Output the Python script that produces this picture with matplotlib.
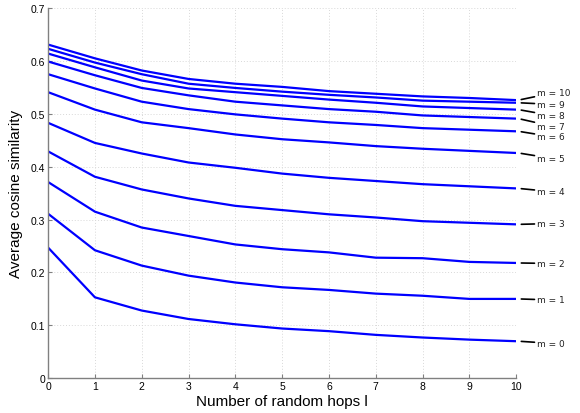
import matplotlib
matplotlib.use('Agg')
import matplotlib.pyplot as plt

hops = [0, 1, 2, 3, 4, 5, 6, 7, 8, 9, 10]
m_values = [0, 1, 2, 3, 4, 5, 6, 7, 8, 9, 10]

# average cosine similarity, one list per m
sim_m0 = [0.247, 0.153, 0.128, 0.112, 0.102, 0.094, 0.089, 0.082, 0.077, 0.073, 0.070]
sim_m1 = [0.311, 0.242, 0.213, 0.194, 0.181, 0.172, 0.167, 0.160, 0.156, 0.150, 0.150]
sim_m2 = [0.371, 0.315, 0.285, 0.269, 0.253, 0.244, 0.238, 0.228, 0.227, 0.220, 0.218]
sim_m3 = [0.429, 0.381, 0.357, 0.340, 0.326, 0.318, 0.310, 0.304, 0.297, 0.294, 0.291]
sim_m4 = [0.483, 0.445, 0.425, 0.408, 0.398, 0.387, 0.379, 0.373, 0.367, 0.363, 0.359]
sim_m5 = [0.541, 0.508, 0.484, 0.473, 0.461, 0.452, 0.446, 0.439, 0.434, 0.430, 0.426]
sim_m6 = [0.575, 0.548, 0.523, 0.509, 0.499, 0.491, 0.484, 0.479, 0.473, 0.470, 0.467]
sim_m7 = [0.599, 0.573, 0.549, 0.535, 0.523, 0.516, 0.509, 0.504, 0.497, 0.494, 0.491]
sim_m8 = [0.614, 0.588, 0.563, 0.548, 0.541, 0.534, 0.527, 0.521, 0.514, 0.511, 0.508]
sim_m9 = [0.623, 0.597, 0.575, 0.557, 0.549, 0.542, 0.536, 0.531, 0.525, 0.523, 0.521]
sim_m10 = [0.631, 0.605, 0.582, 0.566, 0.557, 0.551, 0.543, 0.538, 0.533, 0.530, 0.526]

series = [sim_m0, sim_m1, sim_m2, sim_m3, sim_m4, sim_m5,
          sim_m6, sim_m7, sim_m8, sim_m9, sim_m10]

# where the "m = ..." labels sit (spread out so they do not collide)
label_y = [0.066, 0.148, 0.217, 0.2925, 0.353, 0.416,
           0.457, 0.477, 0.497, 0.518, 0.540]

fig = plt.figure(figsize=(5.8, 4.14), dpi=100)
ax = fig.add_axes([0.083, 0.084, 0.807, 0.894])

for m, ys, ly in zip(m_values, series, label_y):
    ax.plot(hops, ys, color='#0000ff', linewidth=1.6, solid_capstyle='butt')
    # leader line from the last point to the label
    ax.annotate(f'm = {m}', xy=(hops[-1] + 0.05, ys[-1]), xytext=(hops[-1] + 0.45, ly),
                textcoords='data', va='center', ha='left', fontsize=6.5,
                family='DejaVu Sans', color='#222222', annotation_clip=False,
                arrowprops=dict(arrowstyle='-', color='black', lw=1.2,
                                shrinkA=0, shrinkB=2))

ax.set_xlim(0, 10)
ax.set_ylim(0, 0.7)
ax.set_xticks(hops)
ax.set_yticks([0, 0.1, 0.2, 0.3, 0.4, 0.5, 0.6, 0.7])
ax.set_yticklabels(['0', '0.1', '0.2', '0.3', '0.4', '0.5', '0.6', '0.7'])

for side in ['top', 'right']:
    ax.spines[side].set_visible(False)
for side in ['left', 'bottom']:
    ax.spines[side].set_color('#808080')
    ax.spines[side].set_linewidth(1.0)

ax.tick_params(direction='in', length=3, color='#808080', labelsize=7.5,
               labelfontfamily='Liberation Sans', pad=2)
ax.grid(True, linestyle=(0, (1, 2)), color='#d8d8d8', linewidth=0.7)
ax.set_axisbelow(True)

ax.set_xlabel('Number of random hops l', fontsize=11, family='Liberation Sans', labelpad=2)
ax.set_ylabel('Average cosine similarity', fontsize=11, family='Liberation Sans', labelpad=6)

fig.savefig('out.png', dpi=100)
